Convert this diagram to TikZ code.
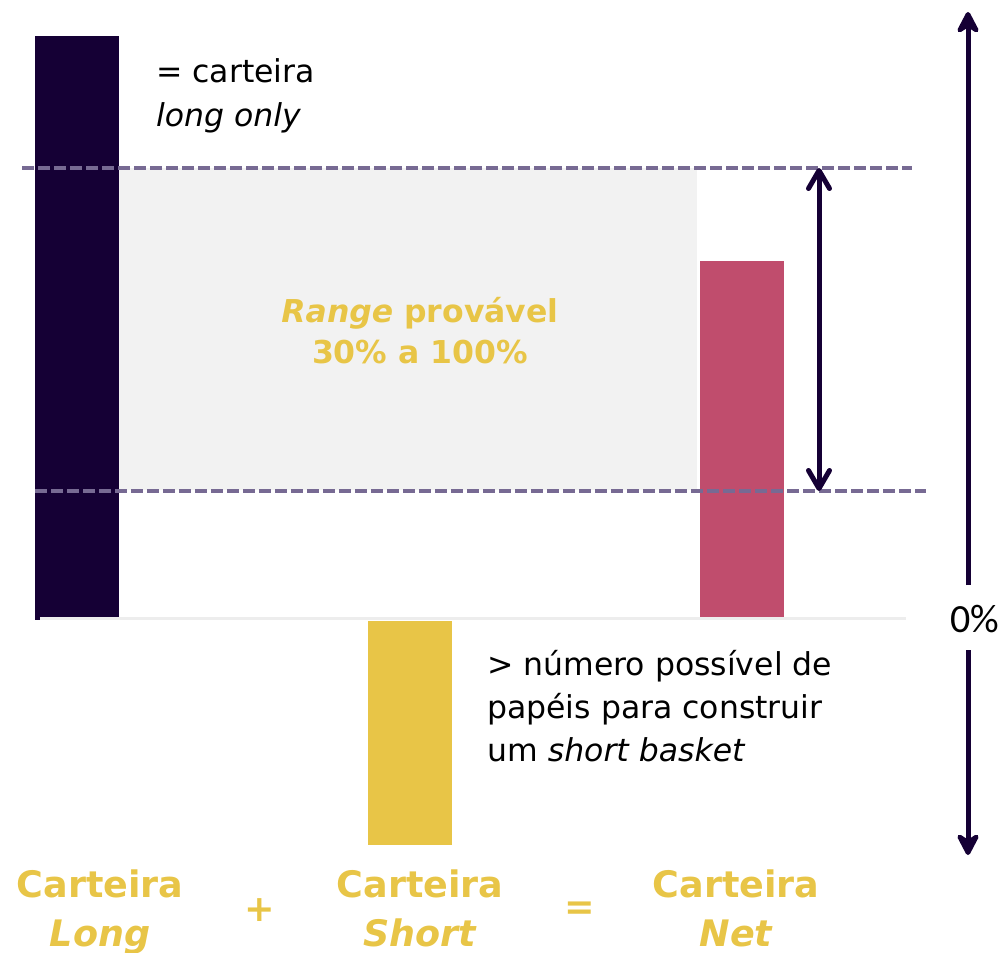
\documentclass[tikz,border=0pt]{standalone}
\usepackage{fontspec}
\setmainfont{DejaVu Sans}
\newfontfamily\calfont{Carlito}
\usetikzlibrary{arrows.meta}
\definecolor{inkdark}{HTML}{150035}
\definecolor{rangegray}{HTML}{F2F2F2}
\definecolor{dashpurple}{HTML}{776A93}
\definecolor{netpink}{HTML}{C04D6D}
\definecolor{goldy}{HTML}{E8C547}
\definecolor{axisgray}{HTML}{EDEDED}
\newcommand{\bodysize}{\fontsize{31.5}{38}\selectfont}
\newcommand{\headsize}{\fontsize{36.5}{44}\selectfont\bfseries}

\begin{document}
\begin{tikzpicture}[x=1pt, y=-1pt,
		txt/.style={inner sep=0pt, font=\bodysize, anchor=base west},
		gold/.style={inner sep=0pt, font=\headsize, text=goldy, anchor=base},
		limit/.style={line width=3.5pt, draw=dashpurple, dash pattern=on 11.5pt off 4.5pt},
		midarrow/.style={line width=5pt, draw=inkdark, >={Straight Barb[length=18pt,width=21pt,round]}, <->},
		sidearrow/.style={line width=5pt, draw=inkdark, >={Stealth[length=27pt,width=28pt,inset=9pt,round]}, ->}]
	%%%%% START %%%%%
	\useasboundingbox (0,0) rectangle (1005,953);
	
	% shaded range
	\fill[rangegray] (119,168) rectangle (697,490);
	
	% bars
	\fill[inkdark] (35,36) rectangle (119,617);
	\fill[inkdark] (35,617) rectangle (40,620);
	\fill[netpink] (700,261) rectangle (784,617);
	\fill[goldy] (368,621) rectangle (452,845);
	
	% zero line
	\draw[line width=3pt, draw=axisgray] (40,618.5) -- (906,618.5);
	
	% limits of the range
	\draw[limit] (22,168) -- (912,168);
	\draw[limit] (35,491) -- (926,491);
	
	\coordinate (rangetop) at (819,168);
	\coordinate (rangebot) at (819,491);
	\draw[midarrow] (rangebot) -- (rangetop);
	
	\coordinate (scaletop) at (968,12);
	\coordinate (scaleup) at (968,585);
	\coordinate (scaledown) at (968,650);
	\coordinate (scalebot) at (968,855);
	\draw[sidearrow] (scaleup) -- (scaletop);
	\draw[sidearrow] (scaledown) -- (scalebot);
	\node[inner sep=0pt, anchor=base west, font=\calfont\fontsize{40}{48}\selectfont] (zero) at (950,632) {0\%};
	
	% texts
	\node[txt] (longA) at (156,82) {= carteira};
	\node[txt] (longB) at (156,126) {\itshape long only};
	
	\node[gold, font=\bodysize\bfseries] (rangeA) at (420,322) {\itshape Range\upshape{} provável};
	\node[gold, font=\bodysize\bfseries] (rangeB) at (420,363) {30\% a 100\%};
	
	\node[txt] (shortA) at (487,675) {> número possível de};
	\node[txt] (shortB) at (487,718) {papéis para construir};
	\node[txt] (shortC) at (487,761) {um \itshape short basket};
	
	% bottom legend
	\node[gold] (cartL) at (100,897) {Carteira};
	\node[gold] (nameL) at (100,946) {\itshape Long};
	\node[gold, anchor=center] (plus) at (260,910) {+};
	\node[gold] (cartS) at (420,897) {Carteira};
	\node[gold] (nameS) at (420,946) {\itshape Short};
	\node[gold, anchor=center] (equal) at (580,911) {=};
	\node[gold] (cartN) at (736,897) {Carteira};
	\node[gold] (nameN) at (736,946) {\itshape Net};
	%%%%% END %%%%%
\end{tikzpicture}
\end{document}
